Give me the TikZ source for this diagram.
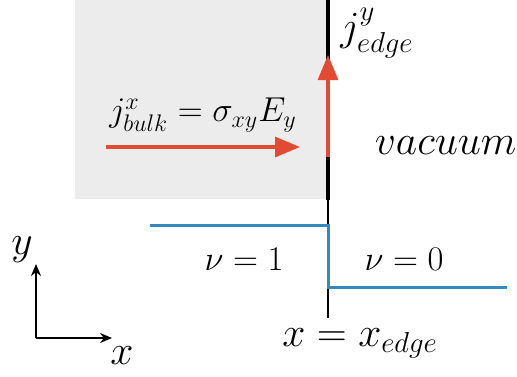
\documentclass[tikz,border=0pt]{standalone}
\usepackage{amsmath,amssymb}
\usepackage{tikz}
\usetikzlibrary{positioning,arrows.meta,calc}

\definecolor{bulkgray}{RGB}{236,236,236}
\definecolor{curred}{RGB}{226,74,51}
\definecolor{stepblue}{RGB}{52,138,189}

\begin{document}
\begin{tikzpicture}[
  x=0.5pt, y=-0.5pt,
  >=Stealth,
  current/.style={-{Triangle[length=12.5pt,width=10pt]}, curred, line width=1.6pt},
  axis/.style={-{Stealth[length=6pt,width=5pt]}, line width=0.9pt},
  lab/.style={font=\fontsize{18.3}{22}\selectfont, inner sep=0pt},
  midlab/.style={font=\fontsize{19.5}{23}\selectfont, inner sep=0pt},
  biglab/.style={font=\fontsize{21.5}{25}\selectfont, inner sep=0pt},
  axlab/.style={font=\fontsize{22}{26}\selectfont, inner sep=0pt}
]
\useasboundingbox (0,0) rectangle (517,376);

% --- Bulk region and edge
\fill[bulkgray] (75,0) rectangle (327,199);
\coordinate (edgetop) at (328,0);
\coordinate (edgemid) at (328,200);
\coordinate (edgebot) at (328,318);
\draw[line width=2pt] (edgetop) -- (edgemid);
\draw[line width=0.7pt] (edgemid) -- (edgebot);

% --- Currents
\coordinate (bulkstart) at (106,147);
\coordinate (bulkend)   at (300,147);
\coordinate (edgestart) at (328,157);
\coordinate (edgeend)   at (328,55);
\draw[current] (bulkstart) -- (bulkend);
\draw[current] (edgestart) -- (edgeend);

\node[lab] (jbulk) at (203,115) {$j^x_{bulk} = \sigma_{xy} E_y$};
\node[midlab, anchor=west] (jedge) at (340,33) {$j^y_{edge}$};
\node[midlab, anchor=east] (vac) at (517,146) {$vacuum$};

% --- Filling factor step
\coordinate (nuleft)  at (150,225);
\coordinate (nuright) at (507,287);
\draw[stepblue, line width=1.5pt]
  (nuleft) -- (edgemid |- nuleft) -- (edgemid |- nuright) -- (nuright);
\node[lab] (nuone)  at (244,259) {$\nu = 1$};
\node[lab] (nuzero) at (404,259) {$\nu = 0$};
\node[biglab] (xedge)  at (360,343) {$x = x_{edge}$};

% --- Axes
\coordinate (origin) at (36,338);
\coordinate (ytip) at (36,264);
\coordinate (xtip) at (112,338);
\draw[axis] (origin) -- (ytip);
\draw[axis] (origin) -- (xtip);
\node[axlab] (ylab) at (22,250) {$y$};
\node[axlab] (xlab) at (122,356) {$x$};

\end{tikzpicture}
\end{document}
